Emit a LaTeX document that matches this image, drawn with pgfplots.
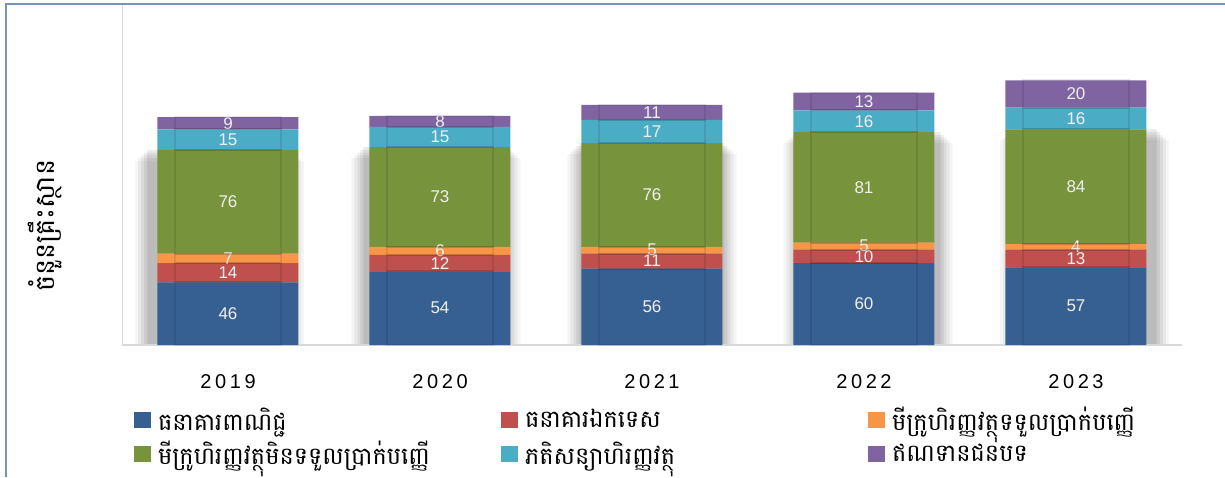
\documentclass[border=0pt]{standalone}
\usepackage{pgfplots}
\usepackage{pgfplotstable}
\pgfplotsset{compat=1.18}
\usepackage{fontspec}
\setmainfont{Liberation Sans}
\newfontfamily\kh[Script=Khmer]{Battambang}
\newfontfamily\yrfont[LetterSpace=18]{Liberation Sans}
\definecolor{cBlue}{HTML}{366092}
\definecolor{cRed}{HTML}{C0504D}
\definecolor{cOrange}{HTML}{F79646}
\definecolor{cGreen}{HTML}{77933C}
\definecolor{cCyan}{HTML}{4BACC6}
\definecolor{cPurple}{HTML}{8064A2}
\definecolor{cBorder}{HTML}{7893BA}
\definecolor{cGrid}{HTML}{D9D9D9}
\newcommand\legtxt[1]{\makebox[343pt][l]{\kh\fontsize{24}{26}\selectfont #1}}
\pgfplotstableread{
x commercial specialized mdi mfi leasing rural
0 46 14 7 76 15 9
1 54 12 6 73 15 8
2 56 11 5 76 17 11
3 60 10 5 81 16 13
4 57 13 4 84 16 20
}\data
\pgfplotstableread{
x shadow
0 143
1 145
2 148
3 156
4 158
}\shadowdata
\pgfplotsset{common/.style={at={(122pt,132pt)}, anchor=south west, scale only axis,
  width=1060pt, height=341pt, xmin=-0.5, xmax=4.5, ymin=0, ymax=250}}
\begin{document}
\begin{tikzpicture}[x=1pt,y=1pt]
\useasboundingbox (0,0) rectangle (1225,477);
\begin{axis}[common, hide axis, ybar, bar shift=0pt]
\addplot[fill=black, opacity=0.04, draw=none, bar width=169pt] table[x expr=\thisrow{x}+0.02*(\thisrow{x}-2), y expr=\thisrow{shadow}-8] {\shadowdata};
\addplot[fill=black, opacity=0.05, draw=none, bar width=163pt] table[x expr=\thisrow{x}+0.02*(\thisrow{x}-2), y expr=\thisrow{shadow}-6] {\shadowdata};
\addplot[fill=black, opacity=0.06, draw=none, bar width=157pt] table[x expr=\thisrow{x}+0.02*(\thisrow{x}-2), y expr=\thisrow{shadow}-4] {\shadowdata};
\addplot[fill=black, opacity=0.07, draw=none, bar width=151pt] table[x expr=\thisrow{x}+0.02*(\thisrow{x}-2), y expr=\thisrow{shadow}-2] {\shadowdata};
\addplot[fill=black, opacity=0.08, draw=none, bar width=145pt] table[x expr=\thisrow{x}+0.02*(\thisrow{x}-2), y=shadow] {\shadowdata};
\end{axis}
\begin{axis}[common,
  ybar stacked, bar width=141pt,
  axis line style={draw=none},
  ytick=\empty, xtick={0,1,2,3,4}, xticklabels={2019,2020,2021,2022,2023},
  major tick length=0pt,
  xticklabel style={font=\yrfont\fontsize{20}{20}\selectfont, anchor=base, yshift=-43pt},
  ylabel={\kh\fontsize{27}{28}\selectfont ចំនួនគ្រឹះស្ថាន},
  ylabel style={at={(axis description cs:-0.073,0.35)}, anchor=center},
  nodes near coords={\pgfmathprintnumber[assume math mode=true]{\rawy}},
  visualization depends on={rawy \as \rawy},
  every node near coord/.append style={font=\fontsize{17}{17}\selectfont, text=black!6,
     anchor=center},
  legend columns=3,
  legend image code/.code={\path[#1, draw=none] (0pt,-8pt) rectangle (17pt,8pt);},
  legend style={at={(axis description cs:0,0)}, anchor=north west, xshift=12pt, yshift=-62pt,
     draw=none, fill=none, inner sep=0pt, outer sep=0pt, nodes={inner sep=0pt},
     row sep=9pt,
     /tikz/every odd column/.append style={column sep=7pt}},
  legend cell align=left,
]
\addplot[fill=cBlue, draw=none] table[x=x,y=commercial] {\data};
\addlegendentry{\legtxt{ធនាគារពាណិជ្ជ}}
\addplot[fill=cRed, draw=none] table[x=x,y=specialized] {\data};
\addlegendentry{\legtxt{ធនាគារឯកទេស}}
\addplot[fill=cOrange, draw=none] table[x=x,y=mdi] {\data};
\addlegendentry{\legtxt{មីក្រូហិរញ្ញវត្ថុទទួលប្រាក់បញ្ញើ}}
\addplot[fill=cGreen, draw=none] table[x=x,y=mfi] {\data};
\addlegendentry{\legtxt{មីក្រូហិរញ្ញវត្ថុមិនទទួលប្រាក់បញ្ញើ}}
\addplot[fill=cCyan, draw=none] table[x=x,y=leasing] {\data};
\addlegendentry{\legtxt{ភតិសន្យាហិរញ្ញវត្ថុ}}
\addplot[fill=cPurple, draw=none] table[x=x,y=rural] {\data};
\addlegendentry{\legtxt{ឥណទានជនបទ}}
\draw[cGrid, line width=2pt] (rel axis cs:0,1) -- (rel axis cs:0,0) -- (rel axis cs:1,0);
\end{axis}
\begin{axis}[common, hide axis, ybar stacked, bar width=106pt]
\addplot[fill=none, draw=black, draw opacity=0.09, line width=2pt] table[x=x,y=commercial] {\data};
\addplot[fill=none, draw=black, draw opacity=0.09, line width=2pt] table[x=x,y=specialized] {\data};
\addplot[fill=none, draw=black, draw opacity=0.09, line width=2pt] table[x=x,y=mdi] {\data};
\addplot[fill=none, draw=black, draw opacity=0.09, line width=2pt] table[x=x,y=mfi] {\data};
\addplot[fill=none, draw=black, draw opacity=0.09, line width=2pt] table[x=x,y=leasing] {\data};
\addplot[fill=none, draw=black, draw opacity=0.09, line width=2pt] table[x=x,y=rural] {\data};
\end{axis}
\draw[cBorder, line width=2pt] (6,0) -- (6,473) -- (1225,473);
\end{tikzpicture}
\end{document}
